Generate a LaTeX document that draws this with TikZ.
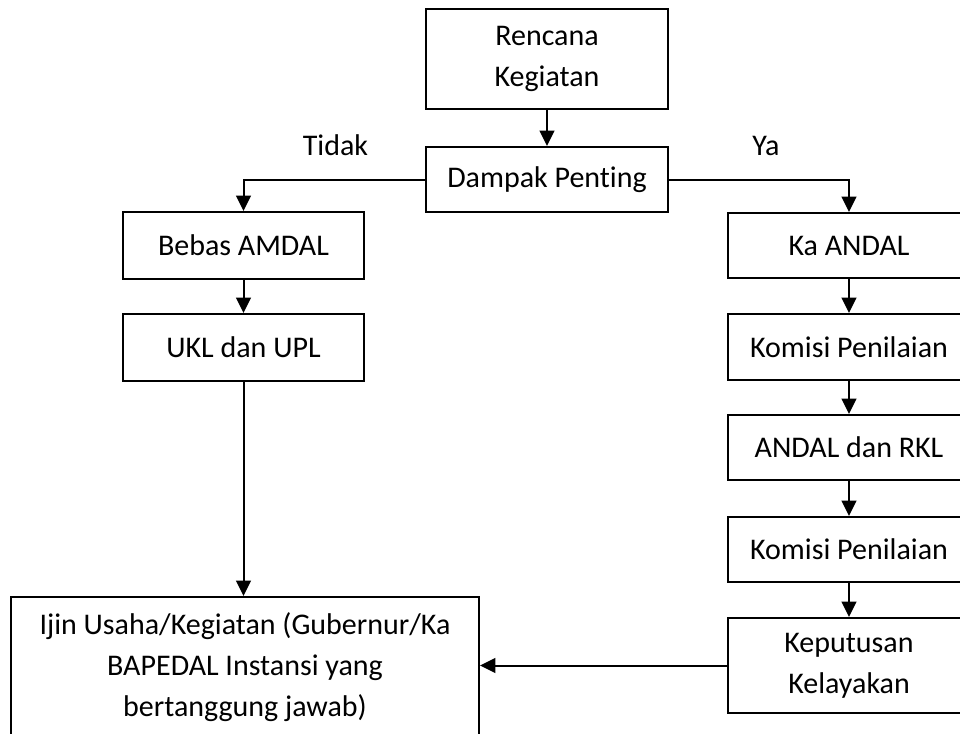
\documentclass[tikz,border=0pt]{standalone}
\usepackage{fontspec}
\setmainfont{Carlito}[RawFeature={-liga;-clig;-calt;-dlig}]
\usetikzlibrary{arrows.meta,positioning}
\begin{document}
\begin{tikzpicture}[x=0.75pt,y=-0.75pt,
  box/.style={draw=black,line width=1.5pt,rectangle,inner sep=0pt,align=center,
    font=\fontsize{22.5pt}{30.75pt}\selectfont},
  lbl/.style={inner sep=0pt,anchor=base,font=\fontsize{22.5pt}{30.75pt}\selectfont},
  conn/.style={line width=1.5pt,-{Triangle[length=11.5pt,width=11pt]}},
  plain/.style={line width=1.5pt}]
\useasboundingbox (0,0) rectangle (960,733);
\clip (0,0) rectangle (960,733);
\fill[white] (0,0) rectangle (960,733);
\node[box,minimum width=181.5pt,minimum height=75pt] (rk) at (547,59) {Rencana\\Kegiatan};
\node[box,minimum width=181.5pt,minimum height=48.75pt] (dp) at (547,179.5) {Dampak Penting};
\node[box,minimum width=180.75pt,minimum height=50.25pt] (ba) at (243.5,245.5) {Bebas AMDAL};
\node[box,minimum width=180.75pt,minimum height=50.25pt] (ukl) at (243.5,347.5) {UKL dan UPL};
\node[box,minimum width=181.5pt,minimum height=48.75pt] (ka) at (849,245.5) {Ka ANDAL};
\node[box,minimum width=181.5pt,minimum height=49.5pt] (kp1) at (849,347) {Komisi Penilaian};
\node[box,minimum width=181.5pt,minimum height=48.75pt] (ar) at (849,447.5) {ANDAL dan RKL};
\node[box,minimum width=181.5pt,minimum height=48.75pt] (kp2) at (849,549.5) {Komisi Penilaian};
\node[box,minimum width=181.5pt,minimum height=71.25pt] (kk) at (849,665.5) {Keputusan\\Kelayakan};
\node[box,minimum width=351pt,minimum height=105pt] (ij) at (245,667) {Ijin Usaha/Kegiatan (Gubernur/Ka\\BAPEDAL Instansi yang\\bertanggung jawab)};
\node[lbl] (tidak) at (335.5,155) {Tidak};
\node[lbl] (ya) at (766,155) {Ya};
\draw[conn] (rk.south) -- (dp.north);
\draw[conn] (dp.west) -| (ba.north);
\draw[conn] (dp.east) -| (ka.north);
\draw[conn] (ba.south) -- (ukl.north);
\draw[conn] (ukl.south) -- (ukl.south |- ij.north);
\draw[conn] (ka.south) -- (kp1.north);
\draw[conn] (kp1.south) -- (ar.north);
\draw[conn] (ar.south) -- (kp2.north);
\draw[conn] (kp2.south) -- (kk.north);
\draw[conn] (kk.west) -- (kk.west -| ij.east);
\end{tikzpicture}
\end{document}
